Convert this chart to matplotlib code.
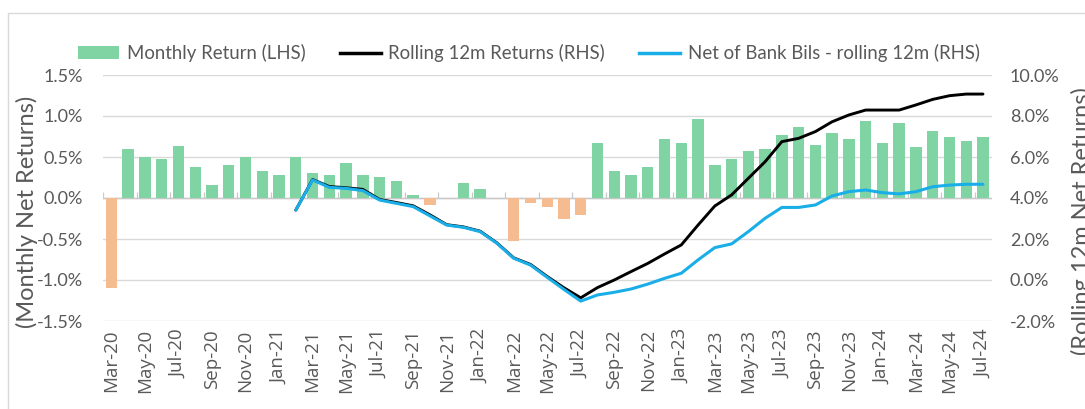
import matplotlib
matplotlib.use("Agg")
import matplotlib.pyplot as plt
from matplotlib.patches import Rectangle
from matplotlib.lines import Line2D
from matplotlib.patches import Patch
import numpy as np
import pandas as pd

# ---------------- data ----------------
months = pd.date_range("2020-03-01", "2024-07-01", freq="MS").strftime("%b-%y").tolist()

monthly_return = [
    -1.10, 0.60, 0.50, 0.47, 0.64, 0.38, 0.16, 0.40, 0.50, 0.33,   # Mar-20 .. Dec-20
    0.28, 0.50, 0.30, 0.28, 0.43, 0.28, 0.26, 0.21, 0.04, -0.08, 0.00, 0.18,  # 2021
    0.11, 0.00, -0.52, -0.06, -0.11, -0.26, -0.21, 0.67, 0.33, 0.28, 0.38, 0.72,  # 2022
    0.67, 0.96, 0.40, 0.48, 0.57, 0.60, 0.77, 0.87, 0.65, 0.79, 0.72, 0.94,  # 2023
    0.67, 0.92, 0.62, 0.82, 0.74, 0.70, 0.74,  # 2024
]

line_start = "Feb-21"
rolling_12m = [
    3.41, 4.90, 4.56, 4.50, 4.42, 3.93, 3.78, 3.62, 3.18, 2.70, 2.59,
    2.38, 1.81, 1.08, 0.76, 0.17, -0.38, -0.87, -0.37, 0.00, 0.41, 0.81, 1.27,
    1.71, 2.68, 3.61, 4.15, 4.96, 5.77, 6.75, 6.91, 7.24, 7.72, 8.05, 8.29,
    8.29, 8.29, 8.54, 8.81, 8.99, 9.07, 9.07,
]
net_bank_bills = [
    3.41, 4.88, 4.52, 4.47, 4.36, 3.90, 3.74, 3.58, 3.13, 2.68, 2.57,
    2.36, 1.79, 1.06, 0.73, 0.13, -0.46, -1.03, -0.73, -0.60, -0.44, -0.20, 0.08,
    0.33, 0.98, 1.58, 1.76, 2.36, 3.01, 3.54, 3.54, 3.66, 4.10, 4.31, 4.39,
    4.26, 4.20, 4.31, 4.55, 4.63, 4.67, 4.67,
]

left_ticks = [-1.5, -1.0, -0.5, 0.0, 0.5, 1.0, 1.5]
right_ticks = [-2, 0, 2, 4, 6, 8, 10]

legend_labels = ["Monthly Return (LHS)", "Rolling 12m Returns (RHS)",
                 "Net of Bank Bils - rolling 12m (RHS)"]

# ---------------- style ----------------
GREEN = "#80d4a4"
ORANGE = "#f5bb91"
BLACK = "#000000"
BLUE = "#1aaee8"
GRID = "#d9d9d9"
TXT = "#595959"
FONT = ["Lato", "DejaVu Sans"]
ROT_FONT = ["Open Sans", "DejaVu Sans"]
plt.rcParams["font.family"] = FONT

W, H = 1085, 409
fig = plt.figure(figsize=(W / 100, H / 100), dpi=100)
fig.patch.set_facecolor("white")

left_px, right_px, top_px, bot_px = 102.7, 991.7, 75, 321
ax1 = fig.add_axes([left_px / W, 1 - bot_px / H, (right_px - left_px) / W, (bot_px - top_px) / H])
ax2 = ax1.twinx()

x = np.arange(len(months))
colors = [GREEN if v >= 0 else ORANGE for v in monthly_return]

ax1.set_axisbelow(True)
for t in left_ticks:
    ax1.axhline(t, color=GRID, lw=1.0, zorder=0)
ax1.axhline(0, color="#c8c8c8", lw=1.0, zorder=0.5)
# small category tick marks on the zero axis
ax1.vlines(np.arange(-0.5, len(months), 2), 0, 0.07, color="#c8c8c8", lw=0.9, zorder=0.5)

ax1.bar(x, monthly_return, width=0.68, color=colors, zorder=1)

xs = x[months.index(line_start):]
ax2.plot(xs, rolling_12m, color=BLACK, lw=2.1, solid_joinstyle="round", solid_capstyle="round")
ax2.plot(xs, net_bank_bills, color=BLUE, lw=2.2, solid_joinstyle="round", solid_capstyle="round")

ax1.set_xlim(-0.52, len(months) - 0.48)
ax1.set_ylim(-1.5, 1.5)
ax2.set_ylim(-2, 10)

ax1.set_yticks(left_ticks)
ax1.set_yticklabels([f"{t:.1f}%" for t in left_ticks])
ax2.set_yticks(right_ticks)
ax2.set_yticklabels([f"{t:.1f}%" for t in right_ticks])
ax1.set_xticks(x[::2])
ax1.set_xticklabels(months[::2], rotation=90, family=ROT_FONT)

for ax in (ax1, ax2):
    for s in ax.spines.values():
        s.set_visible(False)
ax1.tick_params(axis="y", length=0, pad=14, labelsize=13, labelcolor=TXT)
ax2.tick_params(axis="y", length=0, pad=13, labelsize=13, labelcolor=TXT)
ax1.tick_params(axis="x", length=0, pad=6, labelsize=13.5, labelcolor=TXT)

fig.text(27 / W, 1 - 212 / H, "(Monthly Net Returns)", rotation=90, ha="center", va="center",
         fontsize=17, color=TXT)
fig.text(1082 / W, 1 - 87 / H, "(Rolling 12m Net Returns)", rotation=90, ha="center", va="top",
         fontsize=17, color=TXT)

handles = [Patch(facecolor=GREEN, edgecolor="none"),
           Line2D([], [], color=BLACK, lw=2.5),
           Line2D([], [], color=BLUE, lw=2.5)]
leg = fig.legend(handles, legend_labels, loc="center", bbox_to_anchor=(529 / W, 1 - 53 / H),
                 ncol=3, frameon=False, fontsize=13.4, handlelength=2.2, handletextpad=0.4,
                 columnspacing=1.85, labelcolor=TXT)

fig.patches.append(Rectangle((8 / W, -0.1), 1.2, 1.1 - 13 / H, transform=fig.transFigure,
                             fill=False, edgecolor=GRID, lw=1.0))

fig.savefig("out.png", dpi=100)
